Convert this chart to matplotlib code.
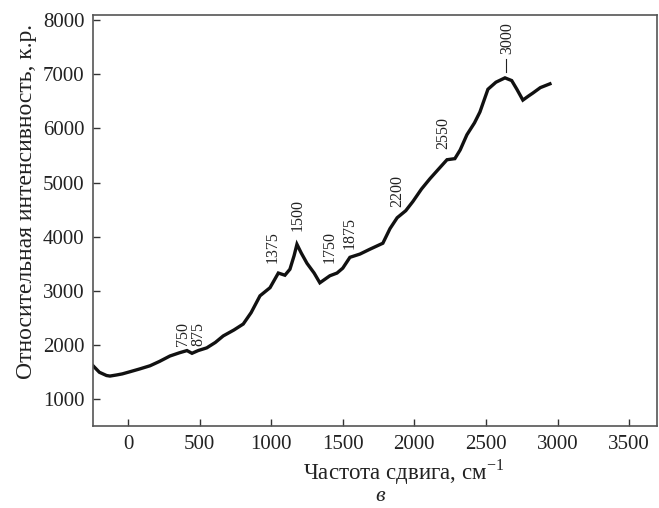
import matplotlib
matplotlib.use("Agg")
import matplotlib.pyplot as plt

# spectrum
shift = [-244, -200, -150, -126, -80, -40, 14, 80, 154, 220, 293, 360, 412, 447, 490,
         550, 610, 665, 740, 805, 860, 922, 992, 1050, 1096, 1131, 1160, 1180, 1210,
         1250, 1300, 1340, 1410, 1460, 1500, 1550, 1620, 1690, 1780, 1830, 1880, 1940,
         1990, 2050, 2109, 2170, 2228, 2283, 2320, 2367, 2420, 2458, 2514, 2570, 2633,
         2680, 2716, 2758, 2800, 2828, 2880, 2947]
intensity = [1620, 1500, 1440, 1430, 1450, 1470, 1510, 1560, 1620, 1700, 1800, 1860, 1900,
             1850, 1900, 1950, 2050, 2170, 2280, 2390, 2600, 2910, 3060, 3330, 3290, 3400,
             3650, 3860, 3700, 3510, 3330, 3150, 3280, 3330, 3420, 3620, 3680, 3770, 3880,
             4150, 4350, 4480, 4650, 4880, 5070, 5250, 5420, 5440, 5600, 5880, 6100, 6300,
             6720, 6850, 6930, 6880, 6720, 6520, 6600, 6650, 6750, 6820]

# peak labels: text, x, y of the text bottom
peak_text = ["750", "875", "1375", "1500", "1750", "1875", "2200", "2550", "3000"]
peak_x = [384, 489, 1013, 1187, 1410, 1550, 1878, 2200, 2647]
peak_y = [1990, 1990, 3510, 4100, 3510, 3770, 4540, 5620, 7370]

xticks = [0, 500, 1000, 1500, 2000, 2500, 3000, 3500]
yticks = [1000, 2000, 3000, 4000, 5000, 6000, 7000, 8000]

plt.rcParams['font.family'] = ['Liberation Serif', 'DejaVu Serif']
plt.rcParams['mathtext.fontset'] = 'custom'
plt.rcParams['mathtext.rm'] = 'Liberation Serif'

fig = plt.figure(figsize=(6.59, 5.08), dpi=100)
ax = fig.add_axes([0.141, 0.161, 0.856, 0.809])

ax.plot(shift, intensity, color='#111111', lw=2.4, solid_joinstyle='miter')

for t, x, y in zip(peak_text, peak_x, peak_y):
    ax.text(x, y, t, rotation=90, ha='center', va='bottom', fontsize=11.5, color='#222222')
# small marker under the 3000 label
ax.plot([2640, 2640], [7040, 7280], color='#222222', lw=0.8)

ax.set_xlim(-245, 3695)
ax.set_ylim(505, 8085)
ax.set_xticks(xticks)
ax.set_yticks(yticks)
ax.tick_params(direction='in', length=5, width=1, labelsize=15, colors='#333333',
               labelcolor='#222222', pad=6)
for s in ax.spines.values():
    s.set_color('#555555')
    s.set_linewidth(1.2)

ax.set_ylabel('Относительная интенсивность, к.р.', fontsize=17, color='#222222', labelpad=7)
ax.yaxis.set_label_coords(-0.1, 0.547)
ax.set_xlabel('Частота сдвига, см$^{-1}$', fontsize=16.5, color='#222222', labelpad=4)
ax.xaxis.set_label_coords(0.55, -0.075)
fig.text(0.577, 0.014, 'в', fontsize=16, style='italic', ha='center', va='baseline',
         color='#222222')

fig.savefig('out.png', dpi=100)
